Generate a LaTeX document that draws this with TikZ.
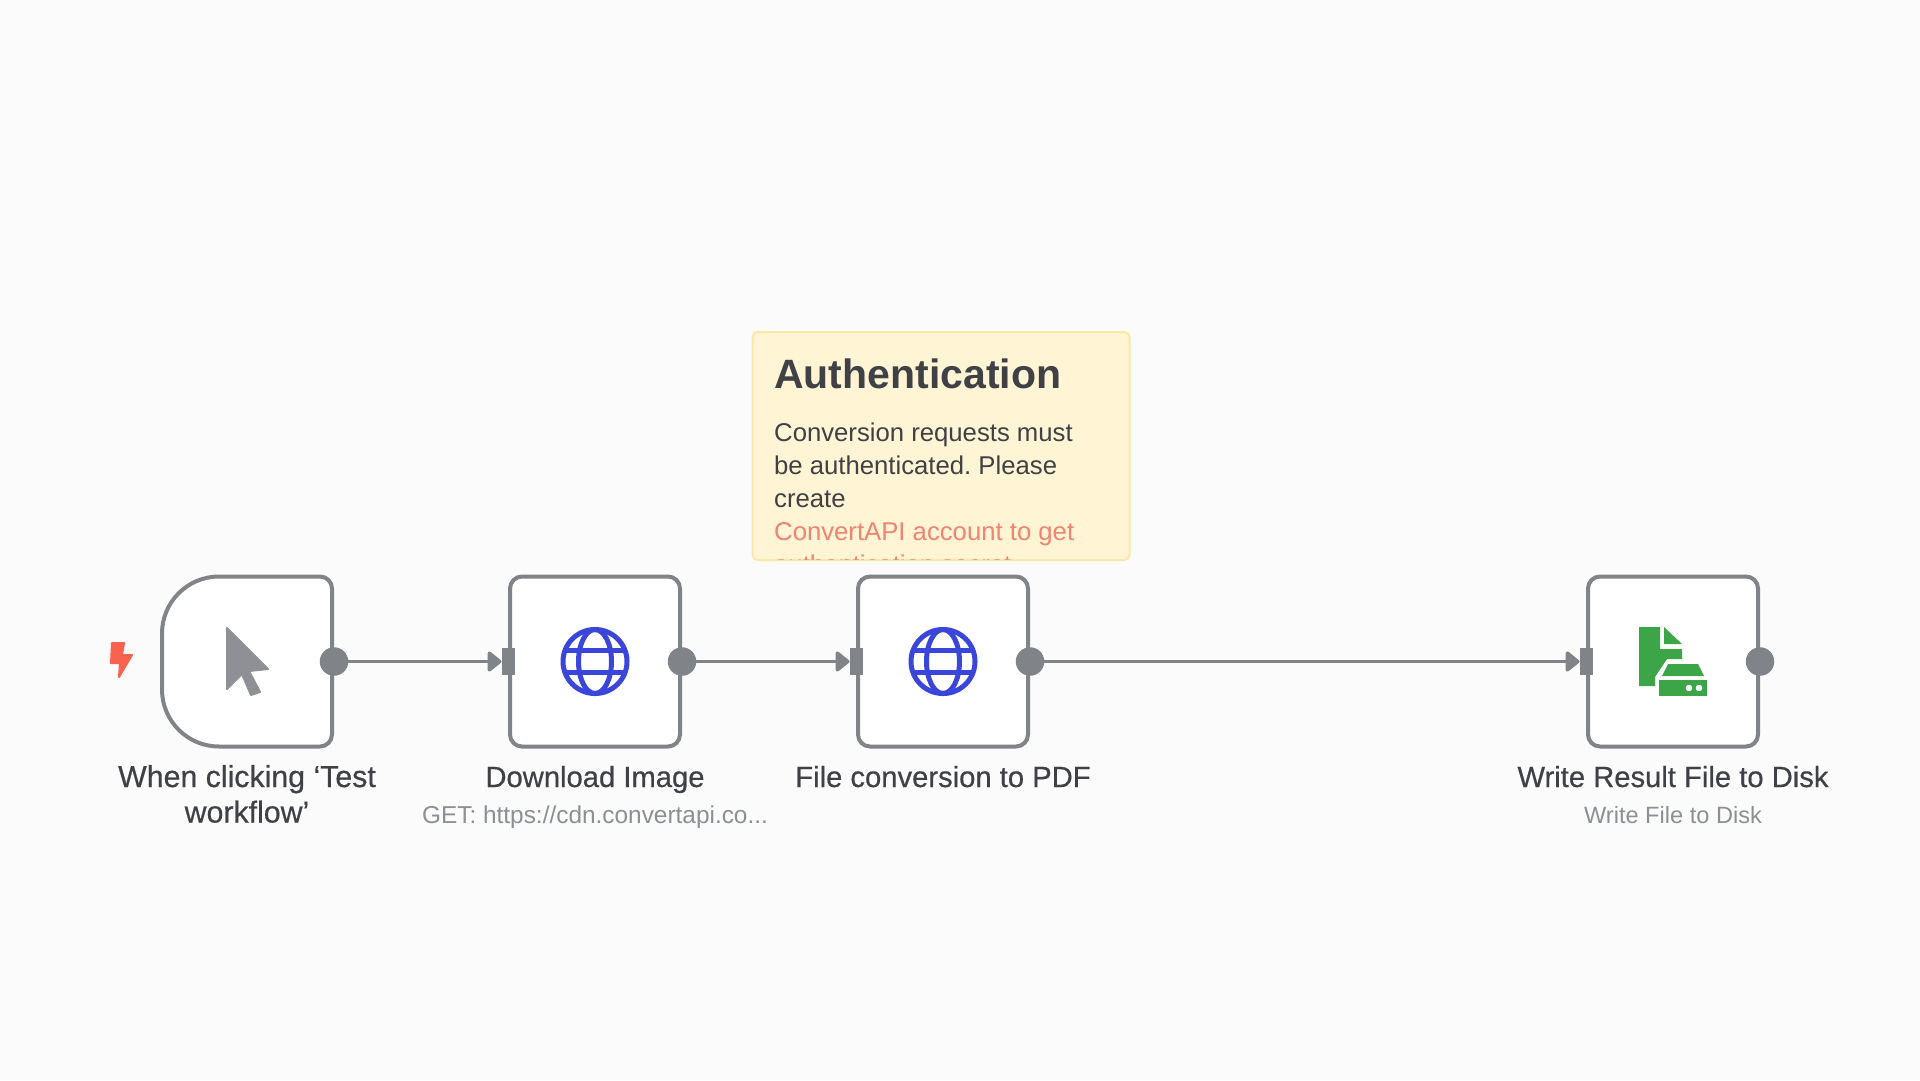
\documentclass[tikz,border=0pt]{standalone}
\usepackage{fontspec}
\setmainfont{Liberation Sans}
\newfontfamily\medfont[FakeBold=0.5]{Liberation Sans}
\usetikzlibrary{arrows.meta,shapes.geometric}
\definecolor{canvasbg}{HTML}{FBFBFB}
\definecolor{edgegray}{HTML}{808388}
\definecolor{cursorgray}{HTML}{8E9095}
\definecolor{labeltext}{HTML}{3F4146}
\definecolor{subtext}{HTML}{8C8F94}
\definecolor{notefill}{HTML}{FFF4D3}
\definecolor{noteline}{HTML}{FBE8A9}
\definecolor{notelink}{HTML}{EE8472}
\definecolor{globeblue}{HTML}{3A46D9}
\definecolor{filegreen}{HTML}{3BA548}
\definecolor{boltred}{HTML}{F9624F}
\tikzset{
  stepbox/.style={draw=edgegray,fill=white,line width=4pt,rounded corners=12pt,minimum size=170pt,outer sep=0pt,inner sep=0pt},
  outdot/.style={circle,fill=edgegray,minimum size=28.5pt,inner sep=0pt,outer sep=0pt,xshift=2pt},
  inbar/.style={rectangle,fill=edgegray,minimum width=13pt,minimum height=27pt,inner sep=0pt,outer sep=0pt},
  wire/.style={draw=edgegray,line width=3.5pt,-{Triangle[length=15pt,width=23pt,round]}},
  steplabel/.style={font=\medfont\fontsize{29.2}{35}\selectfont,text=labeltext,align=center,inner sep=0pt,anchor=base},
  stepsub/.style={font=\fontsize{23.6}{28}\selectfont,text=subtext,inner sep=0pt,anchor=base},
  notetext/.style={font=\fontsize{25.7}{33}\selectfont,text=labeltext,inner sep=0pt,anchor=base west}
}
\newcommand{\globeicon}[1]{
  \begin{scope}[shift={(#1)},draw=globeblue,line width=5pt]
    \draw (0,0) circle (32);
    \draw (0,0) ellipse (16.5 and 32);
    \draw (-30,-11) -- (30,-11);
    \draw (-30,11) -- (30,11);
  \end{scope}
}
\frenchspacing
\begin{document}
\begin{tikzpicture}[x=1pt,y=-1pt]
  \useasboundingbox (0,0) rectangle (1920,1080);
  \fill[canvasbg] (0,0) rectangle (1920,1080);

  % sticky note
  \node[draw=noteline,fill=notefill,line width=2pt,rounded corners=5pt,minimum width=377pt,minimum height=228pt,inner sep=0pt] (note) at (941,446) {};
  \begin{scope}
    \clip (752,332) rectangle (1130,559);
    \node[notetext,font=\bfseries\fontsize{41}{41}\selectfont] (notetitle) at (774,388) {Authentication};
    \node[notetext] (noteone) at (774,441) {Conversion requests must};
    \node[notetext] (notetwo) at (774,474) {be authenticated. Please};
    \node[notetext] (notethree) at (774,507) {create};
    \node[notetext,text=notelink] (notefour) at (774,540) {ConvertAPI account to get};
    \node[notetext,text=notelink] (notefive) at (774,573) {authentication secret};
  \end{scope}

  % boxes
  \node[stepbox,draw=none,fill=none] (trigger) at (247,661.5) {};
  \filldraw[fill=white,draw=edgegray,line width=4pt] (trigger.east) [rounded corners=12pt] -- (trigger.south east) [rounded corners=57pt] -- (trigger.south west) -- (trigger.north west) [rounded corners=12pt] -- (trigger.north east) -- cycle;
  \node[stepbox] (download) at (595,661.5) {};
  \node[stepbox] (convert) at (943,661.5) {};
  \node[stepbox] (write) at (1673,661.5) {};

  % icons
  \fill[boltred,draw=boltred,line width=2pt,line join=round] (112,643) -- (124,643) -- (122,655) -- (132,655) -- (119,677) -- (120,663) -- (111,663) -- cycle;
  \fill[cursorgray,draw=cursorgray,line width=2pt,line join=round] (227,628) -- (268,669) -- (249,671) -- (260,692) -- (251,695) -- (242,674) -- (227,689) -- cycle;
  \globeicon{download.center}
  \globeicon{convert.center}
  \fill[filegreen] (1639,627) -- (1660,627) -- (1660,649) -- (1682,649) -- (1682,659) -- (1667,659) -- (1655,677) -- (1655,686) -- (1639,686) -- cycle;
  \fill[filegreen] (1664,627) -- (1682,644) -- (1664,644) -- cycle;
  \fill[filegreen] (1668,664) -- (1698,664) -- (1704,676) -- (1662,676) -- cycle;
  \fill[filegreen] (1659,680) rectangle (1707,696);
  \fill[white] (1689,688) circle (3.3);
  \fill[white] (1699,688) circle (3.3);

  % ports
  \node[outdot] (triggerout) at (trigger.east) {};
  \node[inbar] (downloadin) at (508,661.5) {};
  \node[outdot] (downloadout) at (download.east) {};
  \node[inbar] (convertin) at (856,661.5) {};
  \node[outdot] (convertout) at (convert.east) {};
  \node[inbar] (writein) at (1586,661.5) {};
  \node[outdot] (writeout) at (write.east) {};

  \draw[wire] (triggerout) -- (downloadin);
  \draw[wire] (downloadout) -- (convertin);
  \draw[wire] (convertout) -- (writein);

  % labels
  \node[steplabel,font=\medfont\fontsize{30.3}{35}\selectfont] (triggerlabel) at (247,787) {When clicking ‘Test};
  \node[steplabel,font=\medfont\fontsize{30.3}{35}\selectfont] (triggerlabeltwo) at (247,822.5) {workflow’};
  \node[steplabel] (downloadlabel) at (595,787) {Download Image};
  \node[stepsub,font=\fontsize{24.4}{28}\selectfont] (downloadsub) at (595,823) {GET: https://cdn.convertapi.co...};
  \node[steplabel] (convertlabel) at (943,787) {File conversion to PDF};
  \node[steplabel] (writelabel) at (1673,787) {Write Result File to Disk};
  \node[stepsub] (writesub) at (1673,823) {Write File to Disk};
\end{tikzpicture}
\end{document}
